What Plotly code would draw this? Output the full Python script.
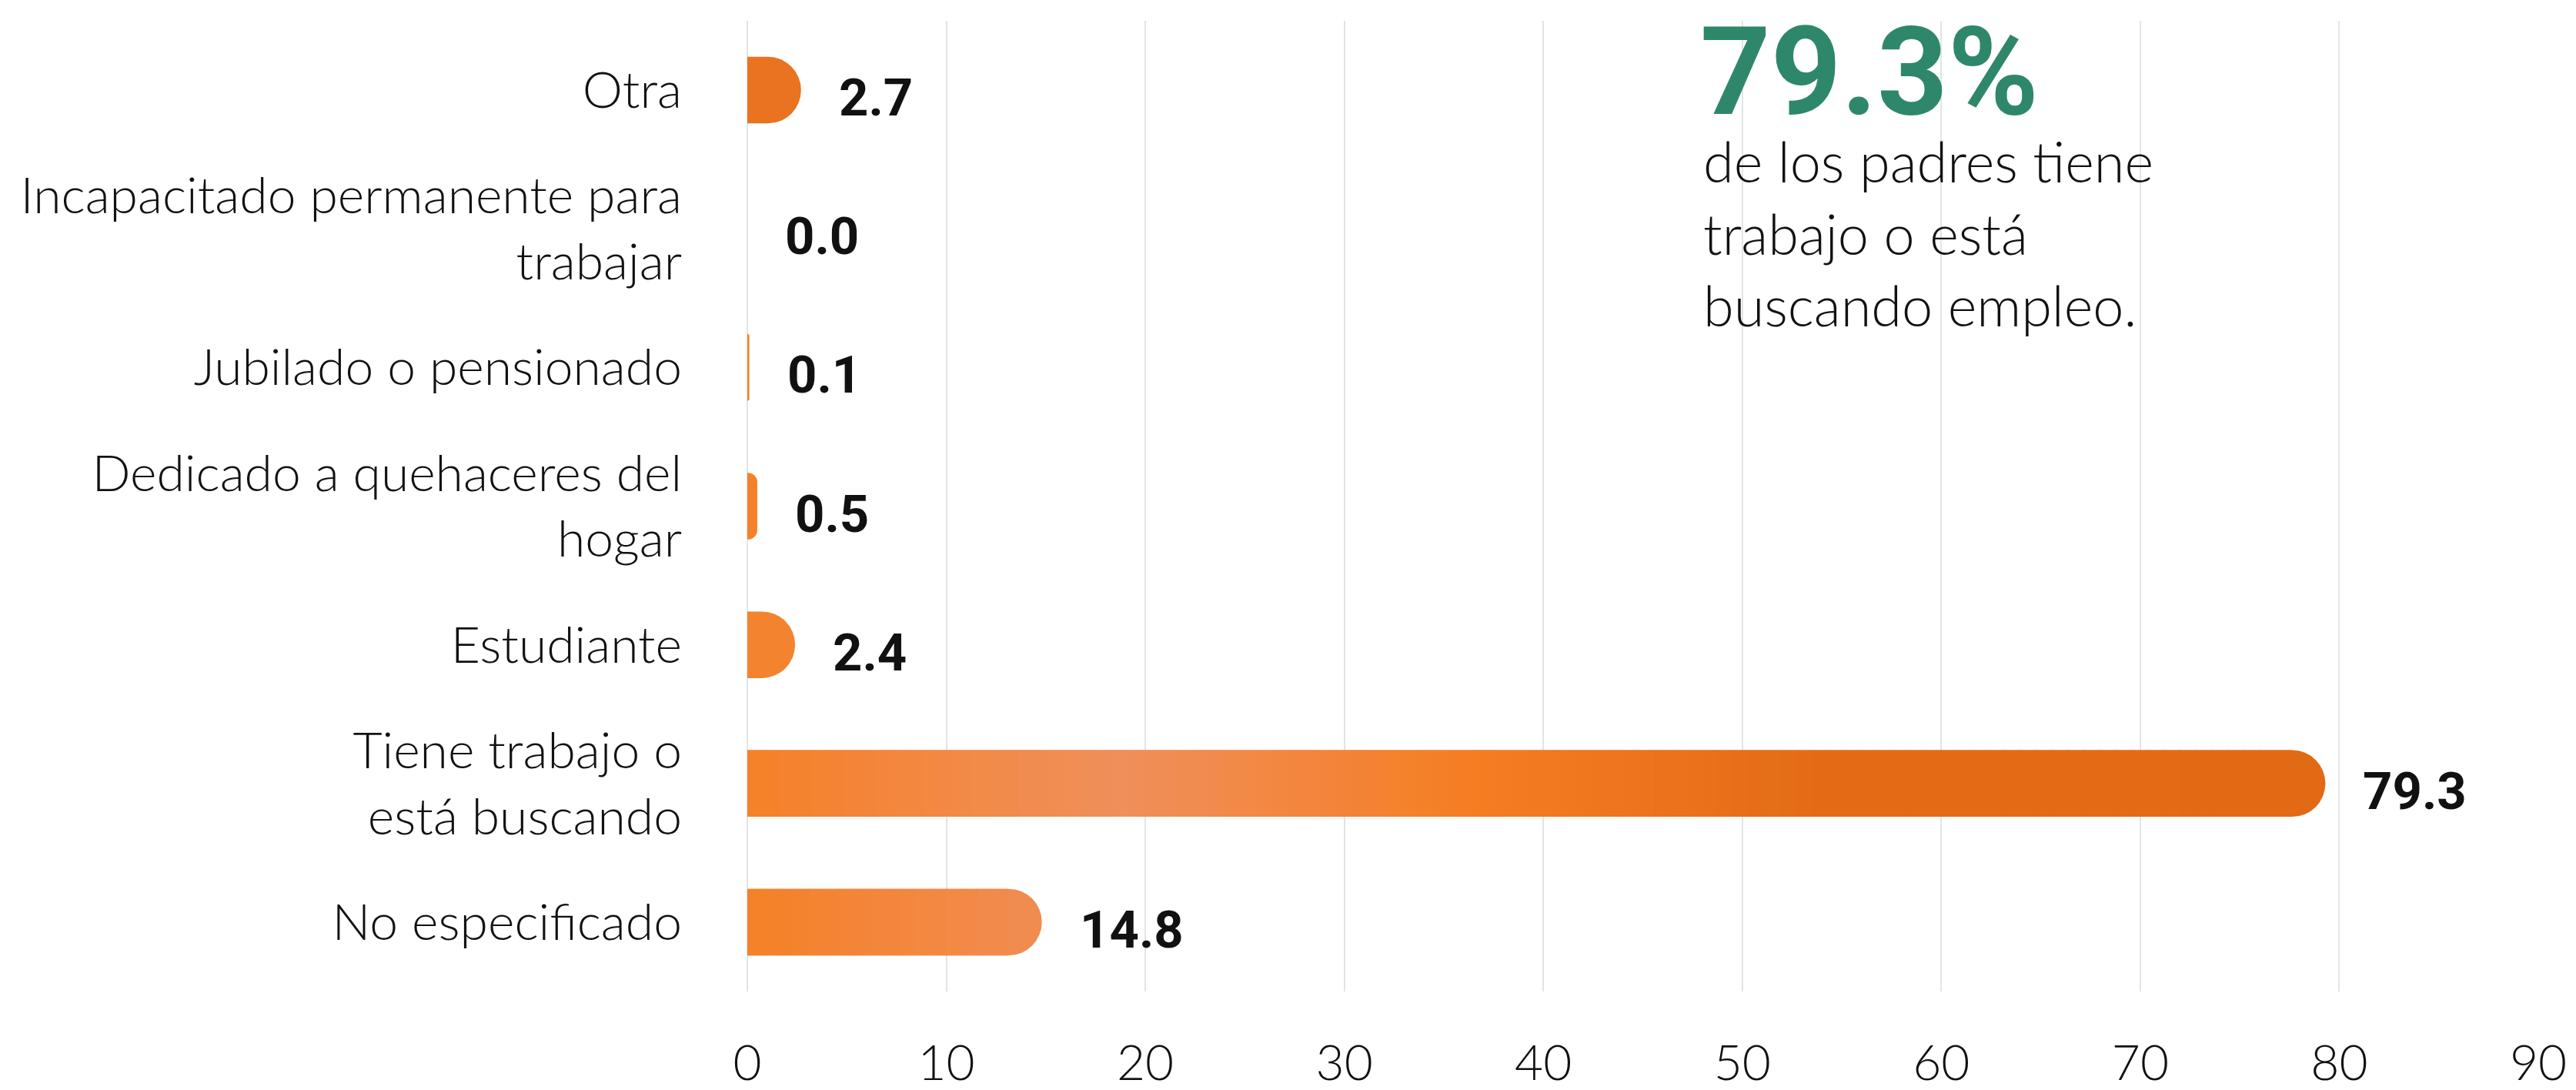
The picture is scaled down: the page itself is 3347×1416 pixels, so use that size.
import math
import plotly.graph_objects as go

# ---------------- data ----------------
categories = [
    "Otra",
    "Incapacitado permanente para<br>trabajar",
    "Jubilado o pensionado",
    "Dedicado a quehaceres del<br>hogar",
    "Estudiante",
    "Tiene trabajo o<br>está buscando",
    "No especificado",
]
values = [2.7, 0.0, 0.1, 0.5, 2.4, 79.3, 14.8]
x_ticks = [0, 10, 20, 30, 40, 50, 60, 70, 80, 90]
headline_value = values[5]
headline_text = "de los padres tiene<br>trabajo o está<br>buscando empleo."

# ---------------- style ----------------
PAGE_OFF = 8  # default body margin of the html page
W, H = 3347 - PAGE_OFF, 1416 - PAGE_OFF
ML, MR, MT, MB = 971 - PAGE_OFF, 49, 27 - PAGE_OFF, 128
X_MAX = 90
plot_w = W - ML - MR
plot_h = H - MT - MB
px_per_unit = plot_w / X_MAX
BAR_W = 0.48
cap_units = 0.5 * BAR_W * (plot_h / 7) / px_per_unit + 0.08

grad_stops = [
    (0.0, (245, 129, 40)),
    (18.8, (240, 143, 92)),
    (36.0, (245, 126, 35)),
    (54.0, (227, 107, 22)),
    (90.0, (226, 106, 21)),
]
solid_override = {"Otra": "#E97320"}
GREEN = "#2F876B"
GRID = "#E1E4EA"
FONT = "Roboto"
LIGHT = "Lato"


def grad_color(x):
    for (x0, c0), (x1, c1) in zip(grad_stops[:-1], grad_stops[1:]):
        if x <= x1:
            t = 0 if x1 == x0 else (x - x0) / (x1 - x0)
            t = max(0.0, min(1.0, t))
            r, g, b = (round(a + (bb - a) * t) for a, bb in zip(c0, c1))
            return f"rgb({r},{g},{b})"
    r, g, b = grad_stops[-1][1]
    return f"rgb({r},{g},{b})"


end_colors = [solid_override.get(c, grad_color(v)) for c, v in zip(categories, values)]

# gradient segments for the long bars (straight part only, cap keeps the end colour)
seg_y, seg_base, seg_len, seg_col = [], [], [], []
for c, v in zip(categories, values):
    if c in solid_override or v < 4:
        continue
    straight = v - cap_units
    n = max(1, math.ceil(straight / 0.8))
    step = straight / n
    for k in range(n):
        b0 = k * step
        seg_y.append(c)
        seg_base.append(b0)
        seg_len.append(step + 0.06)
        seg_col.append(grad_color(b0 + step / 2))

fig = go.Figure()
fig.add_trace(go.Bar(
    y=categories, x=values, orientation="h", width=BAR_W,
    marker=dict(color=end_colors, cornerradius="50%", line=dict(width=0)),
    hoverinfo="skip", showlegend=False,
))
fig.add_trace(go.Bar(
    y=seg_y, x=seg_len, base=seg_base, orientation="h", width=BAR_W,
    marker=dict(color=seg_col, line=dict(width=0)),
    hoverinfo="skip", showlegend=False,
))

annotations = []
for c, v in zip(categories, values):
    annotations.append(dict(
        x=v, y=c, xref="x", yref="y", text=f"{v:.1f}", showarrow=False,
        xanchor="left", yanchor="middle", xshift=47, yshift=-10,
        font=dict(family=FONT, size=67, color="#111111", weight=700),
    ))


def page_x(px):
    return (px - PAGE_OFF - ML) / plot_w


def page_y(py):
    return (H - MB - (py - PAGE_OFF)) / plot_h


annotations.append(dict(
    x=page_x(2207), y=page_y(93), xref="paper", yref="paper",
    text=f"{headline_value:.1f}%", showarrow=False, xanchor="left", yanchor="middle",
    font=dict(family=FONT, size=160, color=GREEN, weight=700),
))
annotations.append(dict(
    x=page_x(2211), y=page_y(302), xref="paper", yref="paper",
    text=headline_text, showarrow=False, xanchor="left", yanchor="middle", align="left",
    font=dict(family=LIGHT, size=72, color="#111111", weight=300),
))

fig.update_layout(
    width=W, height=H,
    margin=dict(l=ML, r=MR, t=MT, b=MB, pad=0, autoexpand=False),
    paper_bgcolor="white", plot_bgcolor="white",
    barmode="overlay",
    font=dict(family=FONT, color="#111111"),
    annotations=annotations,
    shapes=[dict(
        type="rect", xref="x", yref="paper", x0=46.5, x1=78.5,
        y0=page_y(483), y1=1.05,
        fillcolor="white", line=dict(width=0), layer="between",
    )],
)
fig.update_xaxes(
    range=[0, X_MAX], tickvals=x_ticks, ticktext=[str(t) for t in x_ticks],
    showgrid=True, gridcolor=GRID, gridwidth=2,
    zeroline=True, zerolinecolor=GRID, zerolinewidth=2,
    showline=False, ticks="", ticklabelstandoff=50, automargin=False,
    tickfont=dict(family=LIGHT, size=64, color="#111111", weight=300),
    fixedrange=True,
)
fig.update_yaxes(
    categoryorder="array", categoryarray=categories,
    range=[6.5, -0.5], showgrid=False, zeroline=False, showline=False,
    ticks="", ticklabelstandoff=84, automargin=False,
    tickfont=dict(family=LIGHT, size=66, color="#111111", weight=300),
    fixedrange=True,
)

fig.write_html("out.html")
